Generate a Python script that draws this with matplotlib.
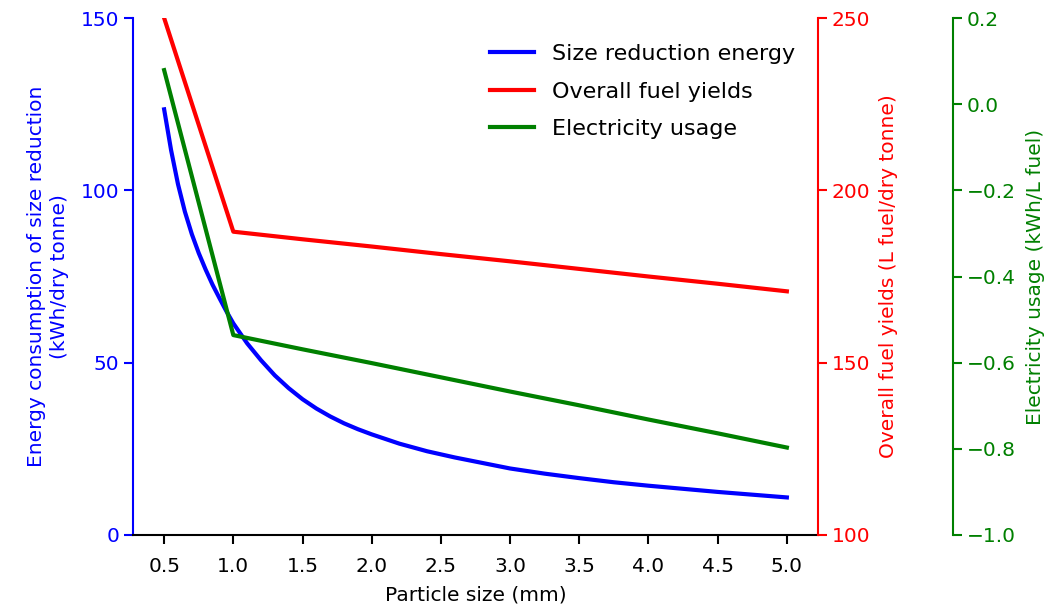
import matplotlib
matplotlib.use("Agg")
import matplotlib.pyplot as plt

# Data
size_x = [0.5, 0.55, 0.6, 0.65, 0.7, 0.75, 0.8, 0.85, 0.9, 0.95, 1.0,
          1.1, 1.2, 1.3, 1.4, 1.5, 1.6, 1.7, 1.8, 1.9, 2.0,
          2.2, 2.4, 2.6, 2.8, 3.0, 3.25, 3.5, 3.75, 4.0, 4.25, 4.5, 4.75, 5.0]
energy = [123.5, 111.7, 101.8, 93.8, 87.3, 81.8, 77.0, 72.6, 68.7, 64.9, 61.4,
          55.6, 50.7, 46.3, 42.6, 39.4, 36.7, 34.4, 32.4, 30.7, 29.2,
          26.5, 24.3, 22.5, 20.9, 19.3, 17.8, 16.5, 15.3, 14.3, 13.4, 12.5, 11.7, 10.9]

yield_x = [0.5, 1.0, 1.5, 2.0, 2.5, 3.0, 3.5, 4.0, 4.5, 5.0]
fuel_yield = [250, 188, 185.8, 183.7, 181.5, 179.4, 177.2, 175.0, 172.9, 170.7]
electricity = [0.079, -0.536, -0.569, -0.601, -0.634, -0.667, -0.699, -0.732, -0.764, -0.797]

x_ticks = [0.5, 1.0, 1.5, 2.0, 2.5, 3.0, 3.5, 4.0, 4.5, 5.0]

blue, red, green = "blue", "red", "green"
fs = 14.5
lw = 3.0

fig = plt.figure(figsize=(10.61, 6.10), dpi=100)
ax = fig.add_axes([133/1061, 1-535/610, (818-133)/1061, (535-18)/610])
ax2 = ax.twinx()
ax3 = ax.twinx()

l1, = ax.plot(size_x, energy, color=blue, lw=lw, label="Size reduction energy")
l2, = ax2.plot(yield_x, fuel_yield, color=red, lw=lw, label="Overall fuel yields")
l3, = ax3.plot(yield_x, electricity, color=green, lw=lw, label="Electricity usage")

ax.set_ylim(0, 150)
ax.set_yticks([0, 50, 100, 150])
ax2.set_ylim(100, 250)
ax2.set_yticks([100, 150, 200, 250])
ax3.set_ylim(-1.0, 0.2)
ax3.set_yticks([-1.0, -0.8, -0.6, -0.4, -0.2, 0.0, 0.2])
ax.set_xticks(x_ticks)
ax.set_xticklabels([f"{v:.1f}" for v in x_ticks])

ax3.spines['right'].set_position(('axes', (953-133)/(818-133)))

for a in (ax, ax2, ax3):
    a.spines['top'].set_visible(False)
    for s in a.spines.values():
        s.set_linewidth(1.5)
ax.spines['right'].set_visible(False)
ax2.spines['left'].set_visible(False)
ax2.spines['bottom'].set_visible(False)
ax3.spines['left'].set_visible(False)
ax3.spines['bottom'].set_visible(False)

ax.spines['left'].set_color(blue)
ax2.spines['right'].set_color(red)
ax3.spines['right'].set_color(green)

ax.tick_params(axis='y', colors=blue, labelsize=fs, length=6.5, width=1.5)
ax.tick_params(axis='x', colors='black', labelsize=fs, length=6.5, width=1.5, pad=9.5)
ax2.tick_params(axis='y', colors=red, labelsize=fs, length=6.5, width=1.5)
ax3.tick_params(axis='y', colors=green, labelsize=fs, length=6.5, width=1.5)

ax.set_xlabel("Particle size (mm)", fontsize=fs, labelpad=7)
ax.set_ylabel("Energy consumption of size reduction\n(kWh/dry tonne)", color=blue,
              fontsize=fs, labelpad=8, linespacing=1.3)
ax2.set_ylabel("Overall fuel yields (L fuel/dry tonne)", color=red, fontsize=fs, labelpad=6)
ax3.set_ylabel("Electricity usage (kWh/L fuel)", color=green, fontsize=fs, labelpad=7)

ax3.legend([l1, l2, l3], [l.get_label() for l in (l1, l2, l3)],
           loc='upper right', bbox_to_anchor=(0.9956, 0.988), frameon=False,
           fontsize=16, labelspacing=0.78)

fig.savefig("out.png", dpi=100)
